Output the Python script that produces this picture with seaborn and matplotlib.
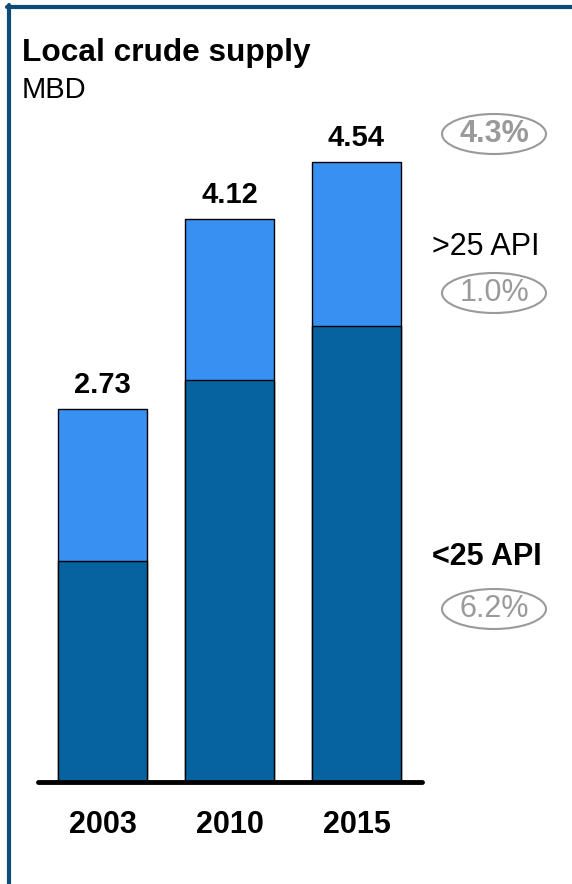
import matplotlib.pyplot as plt
import numpy as np
import pandas as pd
import seaborn as sns
from matplotlib.patches import Ellipse
from matplotlib.lines import Line2D

years = ["2003", "2010", "2015"]
heavy = [1.62, 2.94, 3.34]      # <25 API
totals = [2.73, 4.12, 4.54]      # heavy + light
growth_labels = ["4.3%", "1.0%", "6.2%"]

dark_blue = "#0762a0"
light_blue = "#3891f2"
frame_blue = "#0f4c75"
grey = "#9a9a9a"

sns.set_theme(style="white")
plt.rcParams['font.family'] = ['Liberation Sans', 'DejaVu Sans']
plt.rcParams['text.color'] = 'black'
plt.rcParams['xtick.color'] = 'black'
plt.rcParams['xtick.labelcolor'] = 'black'

W, H = 572, 884
fig = plt.figure(figsize=(W / 100, H / 100), dpi=100)

def fx(px):
    return px / W

def fy(py):
    return 1 - py / H

# axes: baseline at y=782, ylim 0..5 -> 683 px tall
ax = fig.add_axes([fx(38), fy(782), fx(422) - fx(38), 683 / H])

df = pd.DataFrame({"year": years, "total": totals, "heavy": heavy})

sns.barplot(data=df, x="year", y="total", color=light_blue, width=0.7,
            edgecolor="black", linewidth=1, saturation=1, ax=ax)
sns.barplot(data=df, x="year", y="heavy", color=dark_blue, width=0.7,
            edgecolor="black", linewidth=1, saturation=1, ax=ax)

ax.bar_label(ax.containers[0], labels=[f"{v:.2f}" for v in totals],
             padding=7, fontsize=21, fontweight="bold", color="black")

ax.set_ylim(0, 5)
ax.set_xlim(-0.508, 2.516)
ax.set_xlabel("")
ax.set_ylabel("")
ax.set_yticks([])
for s in ["top", "right", "left"]:
    ax.spines[s].set_visible(False)
ax.spines["bottom"].set_linewidth(3.5)
ax.spines["bottom"].set_color("black")
ax.spines["bottom"].set_capstyle("round")
ax.tick_params(axis="x", length=0, pad=20, labelsize=22, labelcolor="black")
for t in ax.get_xticklabels():
    t.set_fontweight("bold")
ax.patch.set_alpha(0)

# title
fig.text(fx(22), fy(61), "Local crude supply", fontsize=22.8, fontweight="bold",
         va="baseline", ha="left", color="black")
fig.text(fx(22), fy(98), "MBD", fontsize=21, va="baseline", ha="left",
         color="black")

# right-side annotations
fig.text(fx(486), fy(247), ">25 API", fontsize=22, ha="center", va="center",
         color="black")
fig.text(fx(487), fy(557), "<25 API", fontsize=22, fontweight="bold",
         ha="center", va="center", color="black")

ell_y = [134, 293, 609]
weights = ["bold", "normal", "normal"]
for lab, yy, wt in zip(growth_labels, ell_y, weights):
    e = Ellipse((fx(494), fy(yy)), 104 / W, 40 / H, transform=fig.transFigure,
                facecolor="none", edgecolor=grey, lw=1.5)
    fig.patches.append(e)
    fig.text(fx(494), fy(yy), lab, fontsize=22, fontweight=wt, color=grey,
             ha="center", va="center")

# frame lines (top and left)
fig.lines.append(Line2D([fx(7), 1], [fy(7), fy(7)], transform=fig.transFigure,
                        color=frame_blue, lw=3))
fig.lines.append(Line2D([fx(9), fx(9)], [fy(5), 0], transform=fig.transFigure,
                        color=frame_blue, lw=3))

fig.savefig("out.png", dpi=100)
